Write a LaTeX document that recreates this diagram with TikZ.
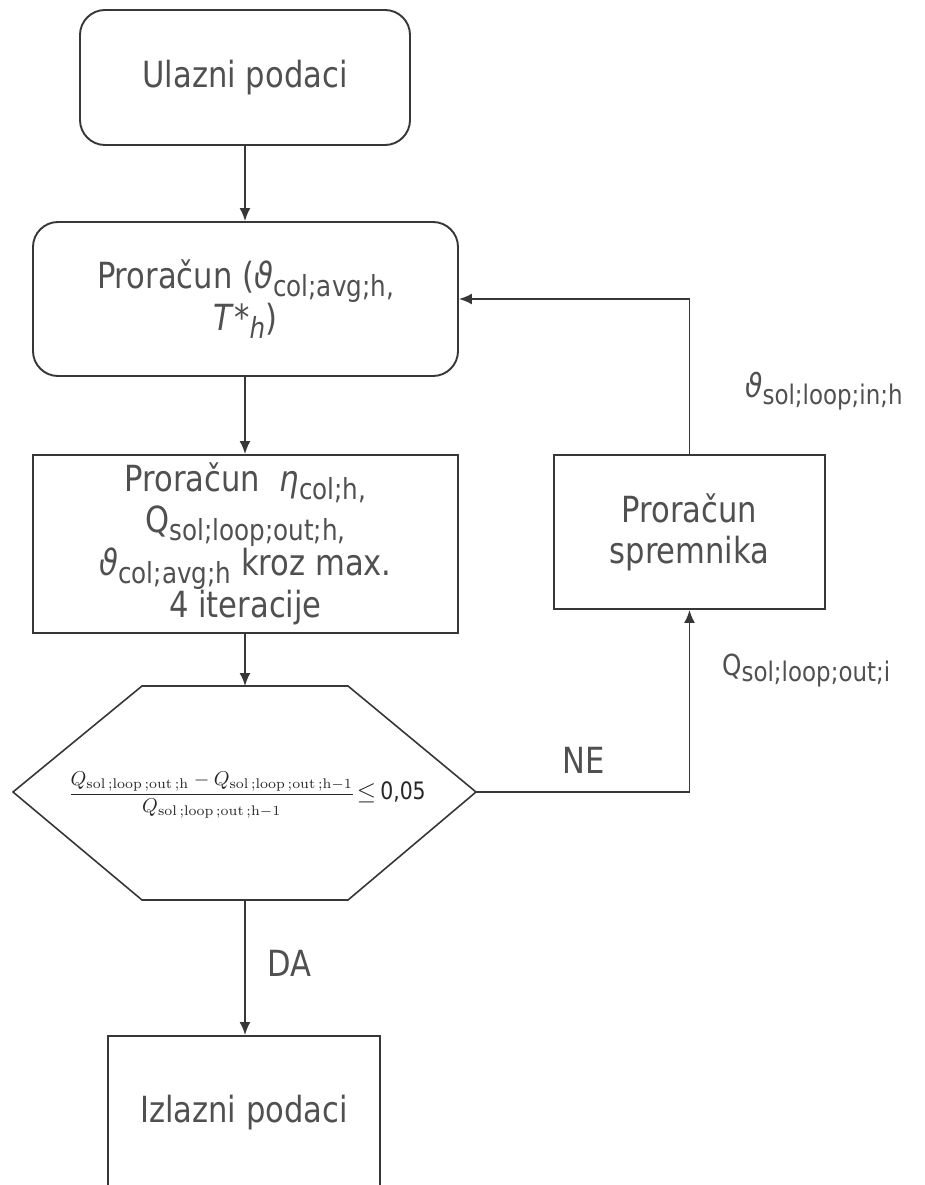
\documentclass[tikz,border=0pt]{standalone}
\usepackage{fontspec}
\usepackage{graphicx}
\usetikzlibrary{arrows.meta}
\newfontfamily\df[FakeStretch=0.85]{DejaVu Sans}
\definecolor{ln}{RGB}{55,55,55}
\definecolor{tx}{RGB}{80,80,80}
\newcommand\subx[1]{\raisebox{-0.22em}{\fontsize{29}{29}\selectfont #1}}
\newcommand\subl[1]{\raisebox{-0.22em}{\fontsize{27}{27}\selectfont #1}}
\newcommand\vth{{\itshape ϑ}}
\begin{document}
\begin{tikzpicture}[x=1pt,y=-1pt,
  box/.style={draw=ln, line width=1.9pt, text=tx, font=\df\fontsize{36}{41}\selectfont, align=center, inner sep=0pt},
  rbox/.style={box, rounded corners=25pt},
  arr/.style={draw=ln, line width=1.9pt, -{Latex[length=13pt,width=11pt]}},
  lab/.style={text=tx, font=\df\fontsize{36}{41}\selectfont, inner sep=0pt},
  hexline/.style={draw=ln, line width=1.6pt}]
\useasboundingbox (0,0) rectangle (925,1185);
\fill[white] (0,0) rectangle (925,1185);

\node[rbox, minimum width=330pt, minimum height=135pt] (ul) at (245,77.5) {Ulazni podaci};
\node[rbox, minimum width=425pt, minimum height=154pt] (p1) at (245.5,299) {Proračun (\vth\subx{col;avg;h,}\\ \textit{T}*\subx{\textit{h}})};
\node[box, minimum width=425pt, minimum height=178pt] (p2) at (245.5,544) {Proračun \ {\itshape η}\subx{col;h,}\\ Q\subx{sol;loop;out;h,}\\ \vth\subx{col;avg;h} kroz max.\\ 4 iteracije};
\node[box, minimum width=271pt, minimum height=154pt] (sp) at (689.5,532) {Proračun\\ spremnika};
\node[box, minimum width=272pt, minimum height=160pt, anchor=north] (iz) at (244,1035) {};
\node[lab] (izt) at (244,1113) {Izlazni podaci};

% hexagon
\coordinate (hexT) at (245,686);
\coordinate (hexB) at (245,900);
\coordinate (hexR) at (476,792);
\coordinate (hexL) at (13,792);
\draw[hexline, fill=white] (142,686) -- (348,686) -- (hexR) -- (348,900) -- (142,900) -- (hexL) -- cycle;
\node[text=black!85, inner sep=0pt, anchor=base] (fx) at (247,799) {\resizebox{287pt}{!}{$\displaystyle\frac{Q_{\mathrm{sol\,;loop\,;out\,;h}}-Q_{\mathrm{sol\,;loop\,;out\,;h-1}}}{Q_{\mathrm{sol\,;loop\,;out\,;h-1}}}$}\,{\fontsize{24}{24}\selectfont$\le$\,\df 0,05}};

% connectors
\draw[arr] (ul.south -| hexT) -- (p1.north -| hexT);
\draw[arr] (p1.south -| hexT) -- (p2.north -| hexT);
\draw[arr] (p2.south -| hexT) -- (hexT);
\draw[arr] (hexR) -| (sp.south);
\draw[arr] (sp.north) |- (p1.east);
\draw[arr] (hexB) -- (hexB |- iz.north);

% labels
\node[lab] (ne) at (584,760) {NE};
\node[lab] (da) at (289,963) {DA};
\node[lab, anchor=base west, font=\df\fontsize{33}{33}\selectfont] (lt) at (745,397) {\vth\subl{sol;loop;in;h}};
\node[lab, anchor=base west, font=\df\fontsize{29}{29}\selectfont] (lq) at (722,675) {Q\subl{sol;loop;out;i}};
\end{tikzpicture}
\end{document}
